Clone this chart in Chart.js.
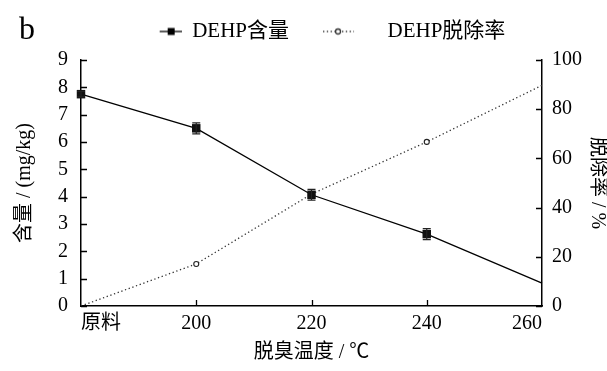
<!DOCTYPE html>
<html><head><meta charset="utf-8">
<script src="https://cdn.jsdelivr.net/npm/chart.js@4.4.0/dist/chart.umd.min.js"></script>
<style>
html,body{margin:0;padding:0;background:#fff;}
#wrap{position:relative;width:607px;height:371px;}
#panel{position:absolute;left:19px;top:12px;font-family:'Liberation Serif','Times New Roman',serif;font-size:32px;line-height:1;color:#000;}
canvas{display:block}
</style></head>
<body><div id="wrap"><canvas id="c" width="607" height="371"></canvas><div id="panel">b</div></div>
<script>
// ---- data ----
const categories = ['原料', '200', '220', '240', '260'];
const contentValues = [7.75, 6.5, 4.07, 2.63, 0.84];      // DEHP含量 (mg/kg)
const contentErrors = [0.1, 0.2, 0.2, 0.2, 0];
const removalValues = [0, 17.1, 45.5, 66.7, 89.7];         // DEHP脱除率 (%)
const leftTicks = { min: 0, max: 9, step: 1 };
const rightTicks = { min: 0, max: 100, step: 20 };
const seriesNames = ['DEHP含量', 'DEHP脱除率'];

const FONT = "'Liberation Serif','Times New Roman','Noto Sans CJK SC',serif";
Chart.defaults.font.family = FONT;
Chart.defaults.color = '#000';

function makeIcon(draw) {
  const c = document.createElement('canvas');
  c.width = 80; c.height = 14;
  draw(c.getContext('2d'));
  return c;
}
const icon1 = makeIcon(g => {
  g.strokeStyle = '#000'; g.lineWidth = 1.3;
  g.beginPath(); g.moveTo(58, 7); g.lineTo(80, 7); g.stroke();
  g.fillStyle = '#000'; g.fillRect(66, 3.5, 7, 7);
});
const icon2 = makeIcon(g => {
  g.strokeStyle = '#333'; g.lineWidth = 1.3; g.setLineDash([1.3, 2.5]);
  g.beginPath(); g.moveTo(26, 7); g.lineTo(57, 7); g.stroke();
  g.setLineDash([]); g.fillStyle = '#fff';
  g.beginPath(); g.arc(41, 7, 2.5, 0, Math.PI * 2); g.fill(); g.stroke();
});
const legendIcons = [icon1, icon2];

const legendHeight = {
  id: 'legendHeight',
  beforeInit(chart) {
    const lg = chart.legend;
    const fit = lg.fit;
    lg.fit = function () { fit.call(this); this.height = 47; };
  }
};

const innerTicks = {
  id: 'innerTicks',
  afterDraw(chart) {
    const { ctx, scales: { x, y, y1 } } = chart;
    ctx.save();
    ctx.strokeStyle = '#000'; ctx.lineWidth = 1.3;
    ctx.beginPath();
    y.ticks.forEach((t, i) => {
      const py = Math.round(y.getPixelForTick(i)) + 0.5;
      ctx.moveTo(y.right, py); ctx.lineTo(y.right + 6, py);
    });
    y1.ticks.forEach((t, i) => {
      const py = Math.round(y1.getPixelForTick(i)) + 0.5;
      ctx.moveTo(y1.left, py); ctx.lineTo(y1.left - 6, py);
    });
    x.ticks.forEach((t, i) => {
      if (i === 0 || i === x.ticks.length - 1) return;
      const px = Math.round(x.getPixelForTick(i)) + 0.5;
      ctx.moveTo(px, x.top); ctx.lineTo(px, x.top - 6);
    });
    ctx.stroke();
    ctx.restore();
  }
};

const errorBars = {
  id: 'errorBars',
  afterDatasetsDraw(chart) {
    const { ctx, scales: { x, y } } = chart;
    ctx.save();
    ctx.strokeStyle = '#222'; ctx.lineWidth = 1.2;
    contentValues.forEach((v, i) => {
      const e = contentErrors[i];
      if (!e) return;
      const px = x.getPixelForValue(i);
      const t = y.getPixelForValue(v + e), b = y.getPixelForValue(v - e);
      ctx.beginPath();
      ctx.moveTo(px, t); ctx.lineTo(px, b);
      ctx.moveTo(px - 4, t); ctx.lineTo(px + 4, t);
      ctx.moveTo(px - 4, b); ctx.lineTo(px + 4, b);
      ctx.stroke();
    });
    ctx.restore();
  }
};

const last = categories.length - 1;

new Chart(document.getElementById('c'), {
  type: 'line',
  data: {
    labels: categories,
    datasets: [
      {
        label: seriesNames[0],
        data: contentValues,
        yAxisID: 'y',
        borderColor: '#000',
        borderWidth: 1.3,
        pointStyle: 'rect',
        pointRadius: c => c.dataIndex === last ? 0 : 6,
        pointBackgroundColor: '#111',
        pointBorderColor: '#111',
        pointBorderWidth: 0,
        tension: 0,
        clip: false
      },
      {
        label: seriesNames[1],
        data: removalValues,
        yAxisID: 'y1',
        borderColor: '#333',
        borderWidth: 1.3,
        borderDash: [1.3, 2.6],
        pointStyle: 'circle',
        pointRadius: c => (c.dataIndex === 0 || c.dataIndex === last) ? 0 : 2.5,
        pointBackgroundColor: '#fff',
        pointBorderColor: '#222',
        pointBorderWidth: 1.1,
        tension: 0,
        clip: false
      }
    ]
  },
  options: {
    responsive: false,
    animation: false,
    devicePixelRatio: 1,
    layout: { padding: { top: 13, left: 0, right: 0, bottom: 0 } },
    plugins: {
      tooltip: { enabled: false },
      legend: {
        position: 'top',
        labels: {
          usePointStyle: true,
          pointStyleWidth: 80,
          padding: 8,
          color: '#000',
          font: { size: 21, family: FONT },
          generateLabels: chart => chart.data.datasets.map((ds, i) => ({
            text: ds.label,
            pointStyle: legendIcons[i],
            datasetIndex: i,
            hidden: false,
            lineWidth: 0,
            fillStyle: 'transparent',
            strokeStyle: 'transparent',
            fontColor: '#000'
          }))
        }
      }
    },
    scales: {
      x: {
        type: 'category',
        offset: false,
        grid: { display: false, drawTicks: false },
        border: { display: true, color: '#000', width: 1.5 },
        ticks: { autoSkip: false, maxRotation: 0, padding: 6, align: 'inner', font: { size: 20 }, color: '#000' },
        title: { display: true, text: '脱臭温度 / ℃', font: { size: 20 }, padding: { top: 0, bottom: 6 }, color: '#000' },
        afterFit: s => { s.height = 65; }
      },
      y: {
        position: 'left',
        min: leftTicks.min, max: leftTicks.max,
        grid: { display: false, drawTicks: false },
        border: { display: true, color: '#000', width: 1.5 },
        ticks: { stepSize: leftTicks.step, padding: 13, font: { size: 20 }, color: '#000' },
        title: { display: true, text: '含量 / (mg/kg)', font: { size: 20 }, padding: { top: 13, bottom: 0 }, color: '#000' },
        afterFit: s => { s.width = 81; }
      },
      y1: {
        position: 'right',
        min: rightTicks.min, max: rightTicks.max,
        grid: { display: false, drawTicks: false },
        border: { display: true, color: '#000', width: 1.5 },
        ticks: { stepSize: rightTicks.step, padding: 10, font: { size: 20 }, color: '#000' },
        title: { display: true, text: '脱除率 / %', font: { size: 20, lineHeight: 1 }, padding: { top: 0, bottom: 0 }, color: '#000' },
        afterFit: s => { s.width = 65; }
      }
    }
  },
  plugins: [legendHeight, innerTicks, errorBars]
});
</script>
</body></html>
